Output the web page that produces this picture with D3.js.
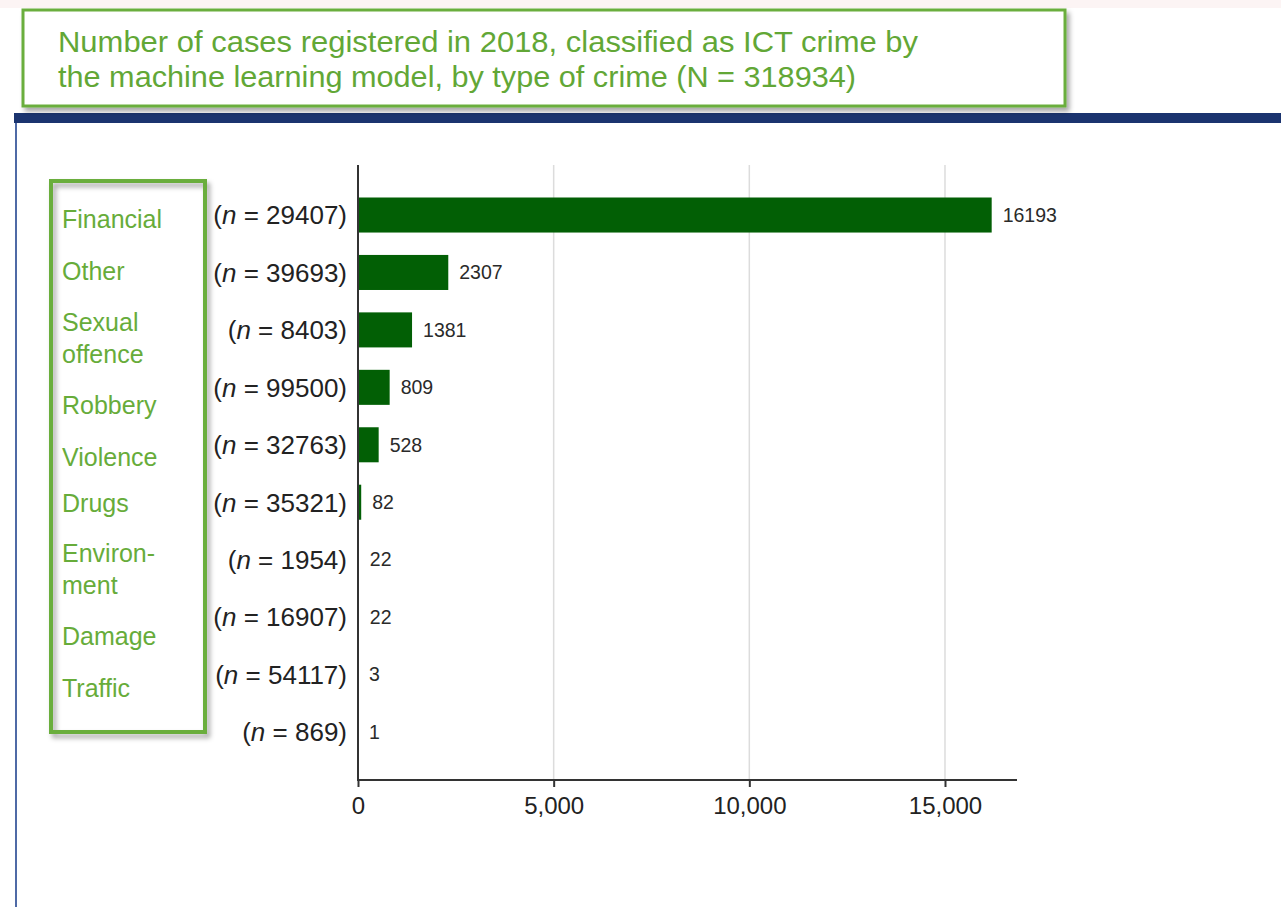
<!DOCTYPE html>
<html lang="en">
<head>
<meta charset="utf-8">
<title>ICT crime 2018</title>
<script src="https://d3js.org/d3.v7.min.js"></script>
<style>
    body { margin: 0; background: #fff; }
    .nlab { font-family: "Liberation Sans", Arial, sans-serif; font-size: 26px; fill: #222; }
    .vlab { font-family: "Liberation Sans", Arial, sans-serif; font-size: 19.5px; fill: #2a2a2a; }
    .tick text { font-family: "Liberation Sans", Arial, sans-serif; font-size: 24px; fill: #222; }
    .legend { font-family: "Liberation Sans", Arial, sans-serif; font-size: 25px; fill: #67ac3a; }
    .title { font-family: "Liberation Sans", Arial, sans-serif; font-size: 29px; fill: #62a736; }
</style>
</head>
<body>
<div id="container"></div>
<script>
    const w = 1281, h = 907;

    // data
    const titleLines = ["Number of cases registered in 2018, classified as ICT crime by",
        "the machine learning model, by type of crime (N = 318934)"];
    const categories = [["Financial"], ["Other"], ["Sexual", "offence"], ["Robbery"], ["Violence"],
        ["Drugs"], ["Environ-", "ment"], ["Damage"], ["Traffic"]];
    const nCounts = [29407, 39693, 8403, 99500, 32763, 35321, 1954, 16907, 54117, 869];
    const values = [16193, 2307, 1381, 809, 528, 82, 22, 22, 3, 1];
    const ticks = [0, 5000, 10000, 15000];

    // legend line baselines (layout)
    const legendY = [[228], [280], [331, 363], [414], [466], [512], [562, 594], [645], [697]];

    const svg = d3.select("#container").append("svg").attr("width", w).attr("height", h);

    const defs = svg.append("defs");
    const f = defs.append("filter").attr("id", "shadow").attr("x", "-5%").attr("y", "-5%").attr("width", "115%").attr("height", "120%");
    f.append("feDropShadow").attr("dx", 3).attr("dy", 4).attr("stdDeviation", 2.5).attr("flood-color", "#000").attr("flood-opacity", 0.35);

    svg.append("rect").attr("x", 0).attr("y", 0).attr("width", w).attr("height", 8).attr("fill", "#fcf4f4");

    // navy band + left border
    svg.append("rect").attr("x", 14).attr("y", 113).attr("width", w - 14).attr("height", 10).attr("fill", "#1b346f");
    svg.append("line").attr("x1", 16).attr("x2", 16).attr("y1", 123).attr("y2", h).attr("stroke", "#4f6aa6").attr("stroke-width", 2);

    // title box
    svg.append("rect").attr("x", 23).attr("y", 10).attr("width", 1042).attr("height", 96)
        .attr("fill", "#fff").attr("stroke", "#6aae3c").attr("stroke-width", 3).attr("filter", "url(#shadow)");
    svg.selectAll("text.title").data(titleLines).enter().append("text")
        .attr("class", "title")
        .attr("x", 58)
        .attr("y", (d, i) => 52 + i * 35)
        .attr("textLength", (d, i) => i === 0 ? 860 : 798)
        .attr("lengthAdjust", "spacingAndGlyphs")
        .text(d => d);

    // scales
    const x = d3.scaleLinear().domain([0, 16840]).range([358, 1017]);
    const y = d3.scaleBand().domain(d3.range(values.length)).range([186.3, 760.7]).paddingInner(0.39).paddingOuter(0.195);

    // grid
    svg.selectAll("line.grid").data(ticks.slice(1)).enter().append("line")
        .attr("x1", d => x(d)).attr("x2", d => x(d))
        .attr("y1", 165).attr("y2", 780)
        .attr("stroke", "#dcdcdc").attr("stroke-width", 1.5);

    // bars
    svg.selectAll("rect.bar").data(values).enter().append("rect")
        .attr("x", x(0))
        .attr("y", (d, i) => y(i))
        .attr("width", d => Math.max(x(d) - x(0), 0.5))
        .attr("height", y.bandwidth())
        .attr("fill", "#025f05");

    svg.selectAll("text.vlab").data(values).enter().append("text")
        .attr("class", "vlab")
        .attr("x", d => x(d) + 11)
        .attr("y", (d, i) => y(i) + y.bandwidth() / 2)
        .attr("dy", "0.35em")
        .text(d => d);

    // n labels
    const nl = svg.selectAll("text.nlab").data(nCounts).enter().append("text")
        .attr("class", "nlab")
        .attr("x", 347)
        .attr("y", (d, i) => y(i) + y.bandwidth() / 2)
        .attr("dy", "0.36em")
        .attr("text-anchor", "end");
    nl.append("tspan").text("(");
    nl.append("tspan").attr("font-style", "italic").text("n");
    nl.append("tspan").text(d => " = " + d + ")");

    // axes
    const xAxis = d3.axisBottom(x).tickValues(ticks).tickSize(7).tickPadding(10).tickFormat(d3.format(","));
    const ax = svg.append("g").attr("transform", "translate(0,780)").call(xAxis);
    ax.select(".domain").attr("stroke", "#333").attr("stroke-width", 2).attr("d", "M358,0H1017");
    ax.selectAll(".tick line").attr("stroke", "#333").attr("stroke-width", 2);

    svg.append("line").attr("x1", 358).attr("x2", 358).attr("y1", 165).attr("y2", 781)
        .attr("stroke", "#333").attr("stroke-width", 2);

    // legend box
    svg.append("rect").attr("x", 51).attr("y", 181).attr("width", 154).attr("height", 551)
        .attr("fill", "none").attr("stroke", "#6aae3c").attr("stroke-width", 4).attr("filter", "url(#shadow)");

    categories.forEach(function (lines, i) {
        lines.forEach(function (t, j) {
            svg.append("text").attr("class", "legend")
                .attr("x", 62).attr("y", legendY[i][j]).text(t);
        });
    });
</script>
</body>
</html>
